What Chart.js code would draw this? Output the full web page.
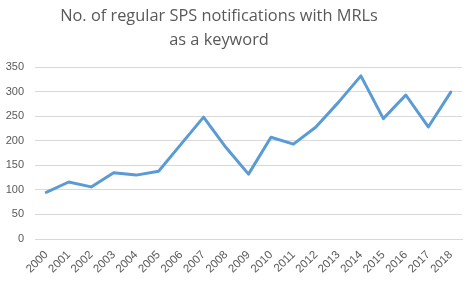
<!DOCTYPE html>
<html><head><meta charset="utf-8">
<script src="https://cdn.jsdelivr.net/npm/chart.js@4"></script>
<style>html,body{margin:0;padding:0;background:#fff}#wrap{width:472px;height:283px;position:relative}</style>
</head><body><div id="wrap"><canvas id="c" width="472" height="283"></canvas></div>
<script>
const years = ["2000","2001","2002","2003","2004","2005","2006","2007","2008","2009","2010","2011","2012","2013","2014","2015","2016","2017","2018"];
const notifications = [95,116,106,135,130,138,193,248,186,132,207,193,228,278,332,245,293,228,299];
const titleLines = ["No. of regular SPS notifications with MRLs","as a keyword"];
const yMax = 350, yStep = 50;

const titlePlugin = {
  id: 'customTitle',
  afterDraw(chart) {
    const ctx = chart.ctx;
    ctx.save();
    ctx.fillStyle = '#595959';
    ctx.textAlign = 'center';
    ctx.textBaseline = 'alphabetic';
    let size = 18;
    ctx.font = size + 'px "Open Sans"';
    const w = ctx.measureText(titleLines[0]).width;
    size = size * 318 / w;
    ctx.font = size + 'px "Open Sans"';
    ctx.fillText(titleLines[0], 219, 21);
    ctx.fillText(titleLines[1], 219, 45);
    ctx.restore();
  }
};

new Chart(document.getElementById('c'), {
  type: 'line',
  data: {
    labels: years,
    datasets: [{
      data: notifications,
      borderColor: '#5b9bd5',
      borderWidth: 3,
      pointRadius: 0,
      tension: 0,
      fill: false,
      borderCapStyle: 'round',
      borderJoinStyle: 'round'
    }]
  },
  options: {
    responsive: false,
    animation: false,
    devicePixelRatio: 1,
    layout: { padding: { top: 67, right: 10, left: 0, bottom: 0 } },
    plugins: { legend: { display: false }, title: { display: false }, tooltip: { enabled: false } },
    scales: {
      x: {
        offset: true,
        grid: { display: false, drawTicks: false },
        border: { display: true, color: '#d9d9d9', width: 1 },
        ticks: { color: '#595959', font: { family: 'Liberation Sans', size: 11.5 }, maxRotation: 45, minRotation: 45, autoSkip: false, padding: 9 },
        afterFit(s) { s.height = 44; }
      },
      y: {
        min: 0, max: yMax,
        grid: { color: '#d9d9d9', lineWidth: 1, drawTicks: false },
        border: { display: false },
        ticks: { stepSize: yStep, color: '#595959', font: { family: 'Liberation Sans', size: 11 }, padding: 11 },
        afterFit(s) { s.width = 35; }
      }
    }
  },
  plugins: [titlePlugin]
});
</script></body></html>
